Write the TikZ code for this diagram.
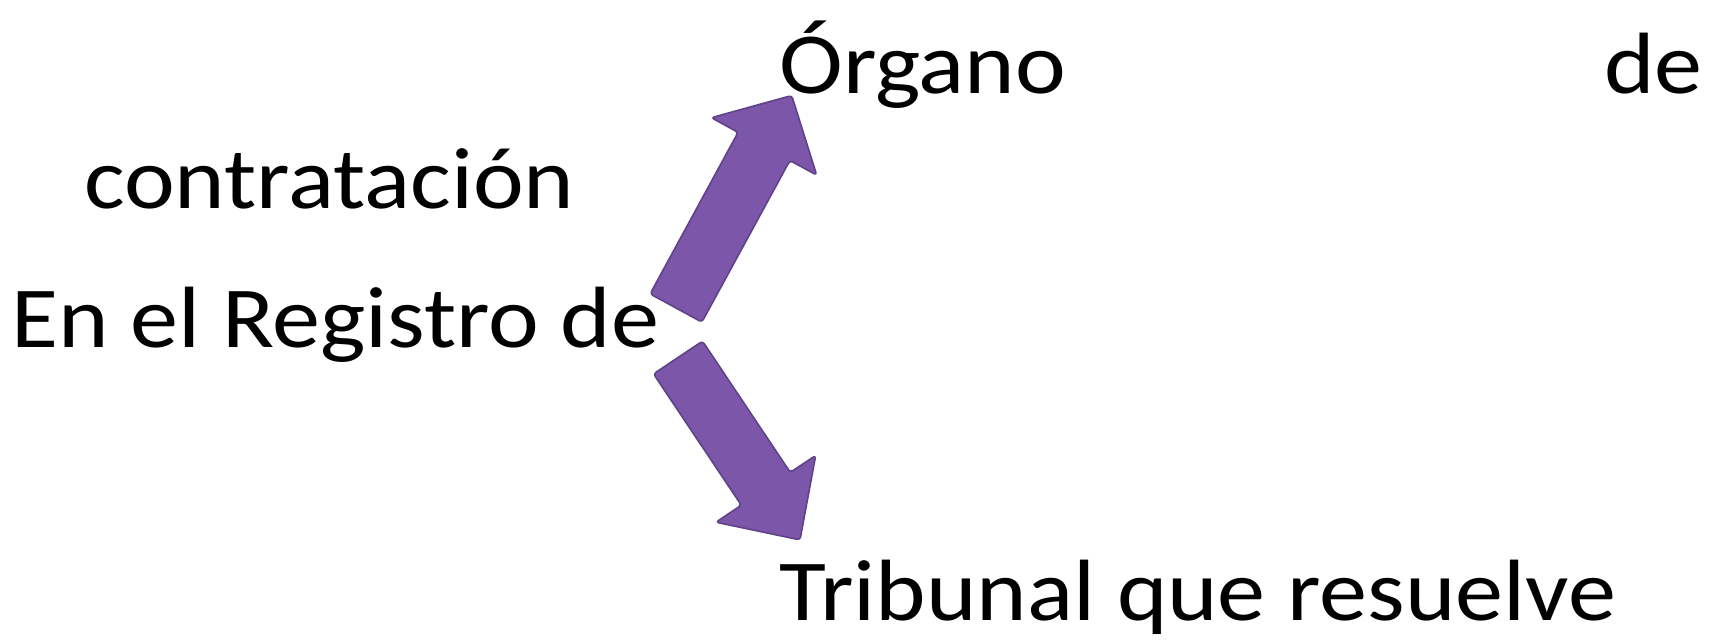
\documentclass[tikz,border=0pt]{standalone}
\usepackage{fontspec}
\setmainfont{Carlito}
\definecolor{arrowfill}{RGB}{124,86,168}
\definecolor{arrowedge}{RGB}{96,66,138}
\newcommand{\wide}[1]{\scalebox{1.105}[1]{#1}}
\begin{document}
\begin{tikzpicture}[x=0.5pt,y=-0.5pt,
  lbl/.style={inner sep=0pt,anchor=base west,font=\fontsize{43.5pt}{52pt}\selectfont},
  blockarrow/.style={fill=arrowfill,draw=arrowedge,line width=0.8pt,line join=round,rounded corners=1.5pt}]
\useasboundingbox (0,0) rectangle (1713,639);
\node[lbl] (organo) at (779,93) {\wide{Órgano}};
\node[lbl] (de1) at (1604,93) {\wide{de}};
\node[lbl] (contr) at (84,208) {\wide{contratación}};
\node[lbl] (registro) at (11,347) {\wide{En el Registro de}};
\node[lbl] (tribunal) at (779,620) {\wide{Tribunal que resuelve}};
% up arrow
\draw[blockarrow] (650.1,293.9) -- (738.1,132.3) -- (711.3,117.7) -- (791.7,95.5)
  -- (816.7,175.1) -- (789.9,160.5) -- (701.9,322.1) -- cycle;
% down arrow
\draw[blockarrow] (702.5,341.1) -- (790.3,472.4) -- (815.7,455.4) -- (800,539.9)
  -- (715.9,522.2) -- (741.3,505.2) -- (653.5,373.9) -- cycle;
\end{tikzpicture}
\end{document}
